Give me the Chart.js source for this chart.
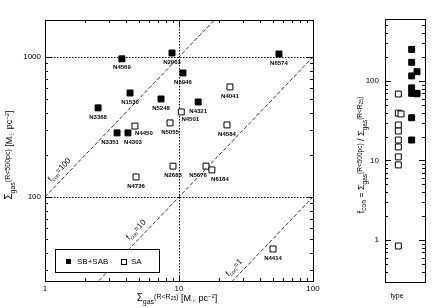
<!DOCTYPE html>
<html>
<head>
<meta charset="utf-8">
<script src="https://cdn.jsdelivr.net/npm/chart.js@4.4.0/dist/chart.umd.min.js"></script>
<style>
  body { margin: 0; background: #fff; }
  #wrap { position: relative; width: 436px; height: 308px; }
  canvas { position: absolute; top: 0; }
  #main { left: 0; }
  #side { left: 330px; }
</style>
</head>
<body>
<div id="wrap">
  <canvas id="main" width="330" height="308"></canvas>
  <canvas id="side" width="106" height="308"></canvas>
</div>
<script>
// barred galaxies (SB + SAB)
const barredNames = ["N4569", "N2903", "N6946", "N6574", "N1530", "N5248", "N4321", "N3368", "N3351", "N4303"];
const barredDisk = [3.75, 8.87, 10.7, 55.7, 4.31, 7.34, 13.9, 2.49, 3.45, 4.16];
const barredCenter = [970, 1068, 769, 1050, 553, 501, 477, 433, 287, 287];

// unbarred galaxies (SA)
const unbarredNames = ["N4041", "N4501", "N5055", "N4450", "N4584", "N4736", "N2683", "N5676", "N6184", "N4414"];
const unbarredDisk = [24.0, 10.4, 8.57, 4.69, 22.8, 4.78, 9.02, 15.9, 17.6, 50.3];
const unbarredCenter = [611, 405, 338, 321, 327, 139, 166, 166, 156, 42.5];

// right panel: concentration per type (1 = SA, 2 = SB+SAB)
const barredFcon = [250, 172, 131, 116, 82, 70, 70, 69, 34.5, 18.1];
const barredType = [2, 2, 2.4, 2, 2, 2, 2.4, 2.38, 2, 2];
const unbarredFcon = [68.6, 39.4, 38.5, 28, 23.5, 18.1, 14.8, 11.1, 8.8, 0.84];
const unbarredType = [1, 1, 1.2, 1, 1, 1, 1, 1, 1, 1];

const fconLevels = [100, 10, 1];
const fconLabelAt = [1.42, 5.3, 28.5];

const xTicks = [1, 10, 100];
const yTicks = [100, 1000];
const sideTicks = [1, 10, 100];

const family = "'Liberation Sans', Arial, sans-serif";

const tickLabel = (value, list) => {
  const hit = list.find(t => Math.abs(value - t) < t * 1e-6);
  return hit === undefined ? "" : String(hit);
};

const logValues = (min, max) => {
  const out = [];
  for (let e = Math.floor(Math.log10(min)); e <= Math.ceil(Math.log10(max)); e++) {
    for (let k = 1; k <= 9; k++) {
      const v = k * Math.pow(10, e);
      if (v >= min * 0.9999 && v <= max * 1.0001) out.push([v, k === 1]);
    }
  }
  return out;
};

// text with sub/superscripts: [text, size, dy]
const drawRich = (ctx, parts, x, y, angle) => {
  ctx.save();
  ctx.translate(x, y);
  ctx.rotate(angle);
  ctx.textBaseline = "alphabetic";
  ctx.textAlign = "left";
  ctx.fillStyle = "#000";
  let total = 0;
  parts.forEach(p => { ctx.font = p[1] + "px " + family; total += ctx.measureText(p[0]).width; });
  let cx = -total / 2;
  parts.forEach(p => {
    ctx.font = p[1] + "px " + family;
    ctx.fillText(p[0], cx, 3 + p[2]);
    cx += ctx.measureText(p[0]).width;
  });
  ctx.restore();
};

const drawTicks = (ctx, chart, sides) => {
  const a = chart.chartArea;
  const xs = chart.scales.x, ys = chart.scales.y;
  ctx.save();
  ctx.strokeStyle = "#000";
  ctx.lineWidth = 1;
  ctx.beginPath();
  if (sides.x) {
    logValues(xs.min, xs.max).forEach(([v, major]) => {
      const px = Math.round(xs.getPixelForValue(v)) + 0.5;
      const len = major ? 6 : 3;
      ctx.moveTo(px, a.bottom); ctx.lineTo(px, a.bottom - len);
      ctx.moveTo(px, a.top); ctx.lineTo(px, a.top + len);
    });
  }
  logValues(ys.min, ys.max).forEach(([v, major]) => {
    const py = Math.round(ys.getPixelForValue(v)) + 0.5;
    const len = major ? 6 : 3;
    ctx.moveTo(a.left, py); ctx.lineTo(a.left + len, py);
    ctx.moveTo(a.right, py); ctx.lineTo(a.right - len, py);
  });
  ctx.stroke();
  ctx.strokeRect(Math.round(a.left) + 0.5, Math.round(a.top) + 0.5,
    Math.round(a.right - a.left), Math.round(a.bottom - a.top));
  ctx.restore();
};

const labelOffsets = {
  N3351: [-7, 9], N4303: [5, 9], N4450: [9, 7], N4501: [9, 7], N5676: [-8, 9], N6184: [8, 9]
};

const mainDecor = {
  id: "mainDecor",
  beforeDatasetsDraw(chart) {
    const ctx = chart.ctx, a = chart.chartArea;
    const xs = chart.scales.x, ys = chart.scales.y;
    ctx.save();
    ctx.strokeStyle = "#000";
    ctx.lineWidth = 1;
    ctx.setLineDash([1.5, 1.5]);
    ctx.beginPath();
    yTicks.forEach(v => {
      const py = Math.round(ys.getPixelForValue(v)) + 0.5;
      ctx.moveTo(a.left, py); ctx.lineTo(a.right, py);
    });
    const px = Math.round(xs.getPixelForValue(10)) + 0.5;
    ctx.moveTo(px, a.top); ctx.lineTo(px, a.bottom);
    ctx.stroke();
    ctx.restore();
    drawTicks(ctx, chart, { x: true });
  },
  afterDatasetsDraw(chart) {
    const ctx = chart.ctx, a = chart.chartArea;
    const xs = chart.scales.x, ys = chart.scales.y;

    // galaxy names
    ctx.save();
    ctx.fillStyle = "#000";
    ctx.font = "bold 6px " + family;
    ctx.textAlign = "center";
    ctx.textBaseline = "middle";
    [barredNames, unbarredNames].forEach((names, d) => {
      const meta = chart.getDatasetMeta(d);
      names.forEach((n, i) => {
        const off = labelOffsets[n] || [0, 9];
        ctx.fillText(n, meta.data[i].x + off[0], meta.data[i].y + off[1]);
      });
    });
    ctx.restore();

    // f_con labels along the lines
    fconLevels.forEach((f, i) => {
      const xv = fconLabelAt[i];
      const x0 = xs.getPixelForValue(xv), y0 = ys.getPixelForValue(xv * f);
      const x1 = xs.getPixelForValue(xv * 2), y1 = ys.getPixelForValue(xv * 2 * f);
      const len = Math.hypot(x1 - x0, y1 - y0);
      const dx = (x1 - x0) / len, dy = (y1 - y0) / len;
      drawRich(ctx, [["f", 8, 0], ["con", 5.5, 2], ["=" + f, 8, 0]],
        x0 + dy * 9, y0 - dx * 9, Math.atan2(dy, dx));
    });

    // legend box
    const lx = a.left + 10, ly = a.bottom - 32;
    ctx.save();
    ctx.fillStyle = "#fff";
    ctx.fillRect(lx, ly, 104, 23);
    ctx.strokeStyle = "#000";
    ctx.lineWidth = 1;
    ctx.strokeRect(Math.round(lx) + 0.5, Math.round(ly) + 0.5, 104, 23);
    ctx.fillStyle = "#000";
    ctx.fillRect(lx + 11, ly + 10, 5, 5);
    ctx.strokeRect(lx + 66.5, ly + 10.5, 5, 5);
    ctx.font = "8px " + family;
    ctx.textBaseline = "middle";
    ctx.fillText("SB+SAB", lx + 22, ly + 12.5);
    ctx.fillText("SA", lx + 76, ly + 12.5);
    ctx.restore();

    // axis titles
    drawRich(ctx, [["Σ", 10, 0], ["gas", 7, 2.5], ["(R<R", 7, -2], ["25", 5, -1], [")", 7, -2],
      [" [M", 9, 0], ["☉", 6, 2], [" pc", 9, 0], ["−2", 6, -3.5], ["]", 9, 0]], 177, 298, 0);
    drawRich(ctx, [["Σ", 10, 0], ["gas", 7, 2.5], ["(R<500pc)", 7, -2],
      [" [M", 9, 0], ["☉", 6, 2], [" pc", 9, 0], ["−2", 6, -3.5], ["]", 9, 0]], 9, 155, -Math.PI / 2);
  }
};

const sideDecor = {
  id: "sideDecor",
  beforeDatasetsDraw(chart) {
    drawTicks(chart.ctx, chart, { x: false });
  },
  afterDatasetsDraw(chart) {
    const ctx = chart.ctx;
    drawRich(ctx, [["f", 9, 0], ["con", 6.5, 2], [" = Σ", 9, 0], ["gas", 6.5, 2.5], ["(R<500pc)", 6.5, -2],
      [" / Σ", 9, 0], ["gas", 6.5, 2.5], ["(R<R", 6.5, -2], ["25", 5, -1], [")", 6.5, -2]], 31, 155, -Math.PI / 2);
    ctx.save();
    ctx.fillStyle = "#000";
    ctx.font = "7px " + family;
    ctx.textAlign = "center";
    ctx.textBaseline = "middle";
    ctx.fillText("type", 67, 296);
    ctx.restore();
  }
};

const pointSet = (xs, ys, fill) => ({
  data: xs.map((x, i) => ({ x, y: ys[i] })),
  pointStyle: "rect",
  pointRadius: 4.2,
  backgroundColor: fill,
  borderColor: "#000",
  borderWidth: 1
});

const axisFont = { size: 8, family };

new Chart(document.getElementById("main"), {
  type: "scatter",
  data: {
    datasets: [
      pointSet(barredDisk, barredCenter, "#000"),
      pointSet(unbarredDisk, unbarredCenter, "#fff"),
      ...fconLevels.map(f => ({
        data: [{ x: 1, y: f }, { x: 100, y: 100 * f }],
        showLine: true,
        borderColor: "#000",
        borderWidth: 0.8,
        borderDash: [4, 2],
        pointRadius: 0
      }))
    ]
  },
  options: {
    responsive: false,
    animation: false,
    layout: { padding: { top: 20, right: 17, left: 0, bottom: 0 } },
    plugins: { legend: { display: false }, tooltip: { enabled: false } },
    scales: {
      x: {
        type: "logarithmic", min: 1, max: 100,
        grid: { display: false, drawTicks: false }, border: { display: false },
        afterFit: s => { s.height = 27; },
        ticks: { autoSkip: false, maxRotation: 0, padding: 3, font: axisFont, color: "#000",
          callback: v => tickLabel(v, xTicks) }
      },
      y: {
        type: "logarithmic", min: 25.1, max: 1837,
        grid: { display: false, drawTicks: false }, border: { display: false },
        afterFit: s => { s.width = 45; },
        ticks: { autoSkip: false, padding: 4, font: axisFont, color: "#000",
          callback: v => tickLabel(v, yTicks) }
      }
    }
  },
  plugins: [mainDecor]
});

new Chart(document.getElementById("side"), {
  type: "scatter",
  data: {
    datasets: [
      pointSet(barredType, barredFcon, "#000"),
      pointSet(unbarredType, unbarredFcon, "#fff")
    ]
  },
  options: {
    responsive: false,
    animation: false,
    layout: { padding: { top: 19, right: 11, left: 0, bottom: 0 } },
    plugins: { legend: { display: false }, tooltip: { enabled: false } },
    scales: {
      x: {
        type: "linear", min: 0, max: 3,
        grid: { display: false, drawTicks: false }, border: { display: false },
        afterFit: s => { s.height = 26; },
        ticks: { display: false }
      },
      y: {
        type: "logarithmic", min: 0.296, max: 603,
        grid: { display: false, drawTicks: false }, border: { display: false },
        afterFit: s => { s.width = 55; },
        ticks: { autoSkip: false, padding: 6, font: axisFont, color: "#000",
          callback: v => tickLabel(v, sideTicks) }
      }
    }
  },
  plugins: [sideDecor]
});
</script>
</body>
</html>
